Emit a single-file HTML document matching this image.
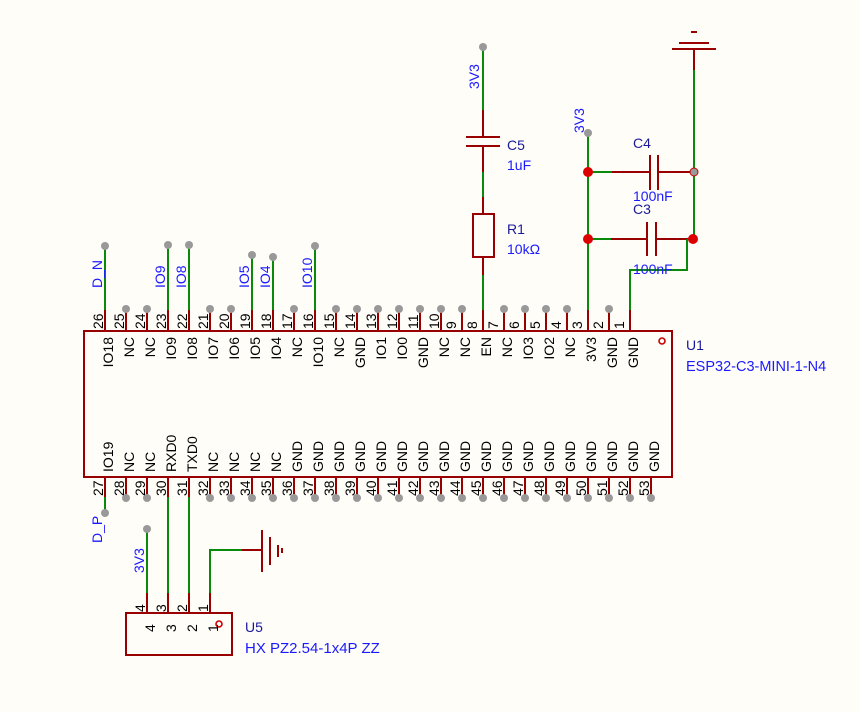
<!DOCTYPE html>
<html><head><meta charset="utf-8"><style>
body{margin:0;background:#FFFDF8}
svg{display:block}
text{font-family:"Liberation Sans",sans-serif;font-size:14px}
.n{fill:#000}
.l{fill:#000}
.b{fill:#1a1aff}
.d{fill:#1a1a99;font-size:14px}
.r{stroke:#990000;stroke-width:2;fill:none}
.g{stroke:#0a8a0a;stroke-width:2;fill:none}
.dot{fill:#999}
</style></head><body>
<svg width="860" height="712" viewBox="0 0 860 712" xmlns="http://www.w3.org/2000/svg">
<rect width="860" height="712" fill="#FFFDF8"/>
<rect x="84" y="331" width="588" height="146" fill="none" stroke="#990000" stroke-width="2"/>
<circle cx="662" cy="341" r="3" fill="none" stroke="#cc0000" stroke-width="1.6"/>
<text x="686" y="350" class="d">U1</text>
<text x="686" y="371" class="b" style="font-size:14.5px">ESP32-C3-MINI-1-N4</text>

<g class="r">
<path d="M630 310V331M609 310V331M588 310V331M567 310V331M546 310V331M525 310V331M504 310V331M483 310V331M462 310V331M441 310V331M420 310V331M399 310V331M378 310V331M357 310V331M336 310V331M315 310V331M294 310V331M273 310V331M252 310V331M231 310V331M210 310V331M189 310V331M168 310V331M147 310V331M126 310V331M105 310V331"/>
<path d="M105 477V497M126 477V497M147 477V497M168 477V497M189 477V497M210 477V497M231 477V497M252 477V497M273 477V497M294 477V497M315 477V497M336 477V497M357 477V497M378 477V497M399 477V497M420 477V497M441 477V497M462 477V497M483 477V497M504 477V497M525 477V497M546 477V497M567 477V497M588 477V497M609 477V497M630 477V497M651 477V497"/>
</g>
<g class="dot">
<circle cx="609" cy="309" r="4"/><circle cx="567" cy="309" r="4"/><circle cx="546" cy="309" r="4"/><circle cx="525" cy="309" r="4"/><circle cx="504" cy="309" r="4"/><circle cx="462" cy="309" r="4"/><circle cx="441" cy="309" r="4"/><circle cx="420" cy="309" r="4"/><circle cx="399" cy="309" r="4"/><circle cx="378" cy="309" r="4"/><circle cx="357" cy="309" r="4"/><circle cx="336" cy="309" r="4"/><circle cx="294" cy="309" r="4"/><circle cx="231" cy="309" r="4"/><circle cx="210" cy="309" r="4"/><circle cx="147" cy="309" r="4"/><circle cx="126" cy="309" r="4"/>
<circle cx="126" cy="498" r="4"/><circle cx="147" cy="498" r="4"/><circle cx="210" cy="498" r="4"/><circle cx="231" cy="498" r="4"/><circle cx="252" cy="498" r="4"/><circle cx="273" cy="498" r="4"/><circle cx="294" cy="498" r="4"/><circle cx="315" cy="498" r="4"/><circle cx="336" cy="498" r="4"/><circle cx="357" cy="498" r="4"/><circle cx="378" cy="498" r="4"/><circle cx="399" cy="498" r="4"/><circle cx="420" cy="498" r="4"/><circle cx="441" cy="498" r="4"/><circle cx="462" cy="498" r="4"/><circle cx="483" cy="498" r="4"/><circle cx="504" cy="498" r="4"/><circle cx="525" cy="498" r="4"/><circle cx="546" cy="498" r="4"/><circle cx="567" cy="498" r="4"/><circle cx="588" cy="498" r="4"/><circle cx="609" cy="498" r="4"/><circle cx="630" cy="498" r="4"/><circle cx="651" cy="498" r="4"/>
</g>

<g class="n">
<text transform="translate(603,329) rotate(-90)">2</text>
<text transform="translate(624,329) rotate(-90)">1</text>
<text transform="translate(582,329) rotate(-90)">3</text>
<text transform="translate(561,329) rotate(-90)">4</text>
<text transform="translate(540,329) rotate(-90)">5</text>
<text transform="translate(519,329) rotate(-90)">6</text>
<text transform="translate(498,329) rotate(-90)">7</text>
<text transform="translate(477,329) rotate(-90)">8</text>
<text transform="translate(456,329) rotate(-90)">9</text>
<text transform="translate(439,329) rotate(-90)">10</text>
<text transform="translate(418,329) rotate(-90)">11</text>
<text transform="translate(397,329) rotate(-90)">12</text>
<text transform="translate(376,329) rotate(-90)">13</text>
<text transform="translate(355,329) rotate(-90)">14</text>
<text transform="translate(334,329) rotate(-90)">15</text>
<text transform="translate(313,329) rotate(-90)">16</text>
<text transform="translate(292,329) rotate(-90)">17</text>
<text transform="translate(271,329) rotate(-90)">18</text>
<text transform="translate(250,329) rotate(-90)">19</text>
<text transform="translate(229,329) rotate(-90)">20</text>
<text transform="translate(208,329) rotate(-90)">21</text>
<text transform="translate(187,329) rotate(-90)">22</text>
<text transform="translate(166,329) rotate(-90)">23</text>
<text transform="translate(145,329) rotate(-90)">24</text>
<text transform="translate(124,329) rotate(-90)">25</text>
<text transform="translate(103,329) rotate(-90)">26</text>
</g>
<g class="n">
<text transform="translate(103,496) rotate(-90)">27</text>
<text transform="translate(124,496) rotate(-90)">28</text>
<text transform="translate(145,496) rotate(-90)">29</text>
<text transform="translate(166,496) rotate(-90)">30</text>
<text transform="translate(187,496) rotate(-90)">31</text>
<text transform="translate(208,496) rotate(-90)">32</text>
<text transform="translate(229,496) rotate(-90)">33</text>
<text transform="translate(250,496) rotate(-90)">34</text>
<text transform="translate(271,496) rotate(-90)">35</text>
<text transform="translate(292,496) rotate(-90)">36</text>
<text transform="translate(313,496) rotate(-90)">37</text>
<text transform="translate(334,496) rotate(-90)">38</text>
<text transform="translate(355,496) rotate(-90)">39</text>
<text transform="translate(376,496) rotate(-90)">40</text>
<text transform="translate(397,496) rotate(-90)">41</text>
<text transform="translate(418,496) rotate(-90)">42</text>
<text transform="translate(439,496) rotate(-90)">43</text>
<text transform="translate(460,496) rotate(-90)">44</text>
<text transform="translate(481,496) rotate(-90)">45</text>
<text transform="translate(502,496) rotate(-90)">46</text>
<text transform="translate(523,496) rotate(-90)">47</text>
<text transform="translate(544,496) rotate(-90)">48</text>
<text transform="translate(565,496) rotate(-90)">49</text>
<text transform="translate(586,496) rotate(-90)">50</text>
<text transform="translate(607,496) rotate(-90)">51</text>
<text transform="translate(628,496) rotate(-90)">52</text>
<text transform="translate(649,496) rotate(-90)">53</text>
</g>
<g class="l" text-anchor="end">
<text transform="translate(638,337) rotate(-90)">GND</text>
<text transform="translate(617,337) rotate(-90)">GND</text>
<text transform="translate(596,337) rotate(-90)">3V3</text>
<text transform="translate(575,337) rotate(-90)">NC</text>
<text transform="translate(554,337) rotate(-90)">IO2</text>
<text transform="translate(533,337) rotate(-90)">IO3</text>
<text transform="translate(512,337) rotate(-90)">NC</text>
<text transform="translate(491,337) rotate(-90)">EN</text>
<text transform="translate(470,337) rotate(-90)">NC</text>
<text transform="translate(449,337) rotate(-90)">NC</text>
<text transform="translate(428,337) rotate(-90)">GND</text>
<text transform="translate(407,337) rotate(-90)">IO0</text>
<text transform="translate(386,337) rotate(-90)">IO1</text>
<text transform="translate(365,337) rotate(-90)">GND</text>
<text transform="translate(344,337) rotate(-90)">NC</text>
<text transform="translate(323,337) rotate(-90)">IO10</text>
<text transform="translate(302,337) rotate(-90)">NC</text>
<text transform="translate(281,337) rotate(-90)">IO4</text>
<text transform="translate(260,337) rotate(-90)">IO5</text>
<text transform="translate(239,337) rotate(-90)">IO6</text>
<text transform="translate(218,337) rotate(-90)">IO7</text>
<text transform="translate(197,337) rotate(-90)">IO8</text>
<text transform="translate(176,337) rotate(-90)">IO9</text>
<text transform="translate(155,337) rotate(-90)">NC</text>
<text transform="translate(134,337) rotate(-90)">NC</text>
<text transform="translate(113,337) rotate(-90)">IO18</text>
</g>
<g class="l">
<text transform="translate(113,472) rotate(-90)">IO19</text>
<text transform="translate(134,472) rotate(-90)">NC</text>
<text transform="translate(155,472) rotate(-90)">NC</text>
<text transform="translate(176,472) rotate(-90)">RXD0</text>
<text transform="translate(197,472) rotate(-90)">TXD0</text>
<text transform="translate(218,472) rotate(-90)">NC</text>
<text transform="translate(239,472) rotate(-90)">NC</text>
<text transform="translate(260,472) rotate(-90)">NC</text>
<text transform="translate(281,472) rotate(-90)">NC</text>
<text transform="translate(302,472) rotate(-90)">GND</text>
<text transform="translate(323,472) rotate(-90)">GND</text>
<text transform="translate(344,472) rotate(-90)">GND</text>
<text transform="translate(365,472) rotate(-90)">GND</text>
<text transform="translate(386,472) rotate(-90)">GND</text>
<text transform="translate(407,472) rotate(-90)">GND</text>
<text transform="translate(428,472) rotate(-90)">GND</text>
<text transform="translate(449,472) rotate(-90)">GND</text>
<text transform="translate(470,472) rotate(-90)">GND</text>
<text transform="translate(491,472) rotate(-90)">GND</text>
<text transform="translate(512,472) rotate(-90)">GND</text>
<text transform="translate(533,472) rotate(-90)">GND</text>
<text transform="translate(554,472) rotate(-90)">GND</text>
<text transform="translate(575,472) rotate(-90)">GND</text>
<text transform="translate(596,472) rotate(-90)">GND</text>
<text transform="translate(617,472) rotate(-90)">GND</text>
<text transform="translate(638,472) rotate(-90)">GND</text>
<text transform="translate(659,472) rotate(-90)">GND</text>
</g>

<g class="g">
<path d="M105 246V310M168 245V310M189 245V310M252 255V310M273 257V310M315 246V310"/>
<path d="M105 497V513"/>
<path d="M168 497V593M189 497V593"/>
</g>
<g class="dot">
<circle cx="105" cy="246" r="4"/><circle cx="168" cy="245" r="4"/><circle cx="189" cy="245" r="4"/><circle cx="252" cy="255" r="4"/><circle cx="273" cy="257" r="4"/><circle cx="315" cy="246" r="4"/>
<circle cx="105" cy="513" r="4"/>
</g>
<g class="b">
<text transform="translate(102,288) rotate(-90)">D_N</text>
<text transform="translate(165,288) rotate(-90)">IO9</text>
<text transform="translate(186,288) rotate(-90)">IO8</text>
<text transform="translate(249,288) rotate(-90)">IO5</text>
<text transform="translate(270,288) rotate(-90)">IO4</text>
<text transform="translate(312,288) rotate(-90)">IO10</text>
<text transform="translate(102,543) rotate(-90)">D_P</text>
</g>

<path class="g" d="M483 47V110M483 172V197M483 275V310"/>
<path class="r" d="M483 110V137M483 146V172M483 197V214M483 257V275"/>
<path class="r" d="M466 137H500M466 146H500"/>
<rect x="473" y="214" width="21" height="43" fill="none" stroke="#990000" stroke-width="2"/>
<circle cx="483" cy="47" r="4" class="dot"/>
<text transform="translate(479,89) rotate(-90)" class="b">3V3</text>
<text x="507" y="150" class="d">C5</text>
<text x="507" y="170" class="b">1uF</text>
<text x="507" y="234" class="d">R1</text>
<text x="507" y="254" class="b">10kΩ</text>

<path class="g" d="M588 133V310"/>
<circle cx="588" cy="133" r="4" class="dot"/>
<text transform="translate(584,133) rotate(-90)" class="b">3V3</text>
<path class="g" d="M588 172H612M588 239H611"/>
<path class="r" d="M612 172H650M658 172H690M611 239H647M656 239H690"/>
<path class="r" d="M650 155V190M658 155V190M647 222V256M656 222V256"/>
<path class="g" d="M694 70V239M687 239V270H630V310"/>
<path class="r" d="M694 50V70"/>
<path class="r" d="M672 49H716M679 43H709M691 32H697"/>
<circle cx="588" cy="172" r="5" fill="#dd0000"/>
<circle cx="588" cy="239" r="5" fill="#dd0000"/>
<circle cx="694" cy="172" r="4" fill="#999" stroke="#cc0000" stroke-width="1"/>
<circle cx="693" cy="239" r="5" fill="#dd0000"/>
<text x="633" y="148" class="d">C4</text>
<text x="633" y="201" class="b" style="font-size:14px">100nF</text>
<text x="633" y="214" class="d">C3</text>
<text x="633" y="274" class="b" style="font-size:14px">100nF</text>

<rect x="126" y="613" width="106" height="42" fill="none" stroke="#990000" stroke-width="2"/>
<path class="r" d="M147 593V613M168 593V613M189 593V613M210 593V613"/>
<path class="g" d="M147 529V593M210 593V550H242"/>
<path class="r" d="M242 550H262M262 530V572M270 537V565M278 545V557M282 548V553"/>
<circle cx="147" cy="529" r="4" class="dot"/>
<text transform="translate(144,573) rotate(-90)" class="b">3V3</text>
<circle cx="219" cy="624" r="3" fill="none" stroke="#cc0000" stroke-width="1.6"/>
<g class="n">
<text transform="translate(145,612) rotate(-90)">4</text>
<text transform="translate(166,612) rotate(-90)">3</text>
<text transform="translate(187,612) rotate(-90)">2</text>
<text transform="translate(208,612) rotate(-90)">1</text>
<text transform="translate(155,632) rotate(-90)">4</text>
<text transform="translate(176,632) rotate(-90)">3</text>
<text transform="translate(197,632) rotate(-90)">2</text>
<text transform="translate(218,632) rotate(-90)">1</text>
</g>
<text x="245" y="632" class="d">U5</text>
<text x="245" y="653" class="b" style="font-size:15px">HX PZ2.54-1x4P ZZ</text>
</svg>
</body></html>
